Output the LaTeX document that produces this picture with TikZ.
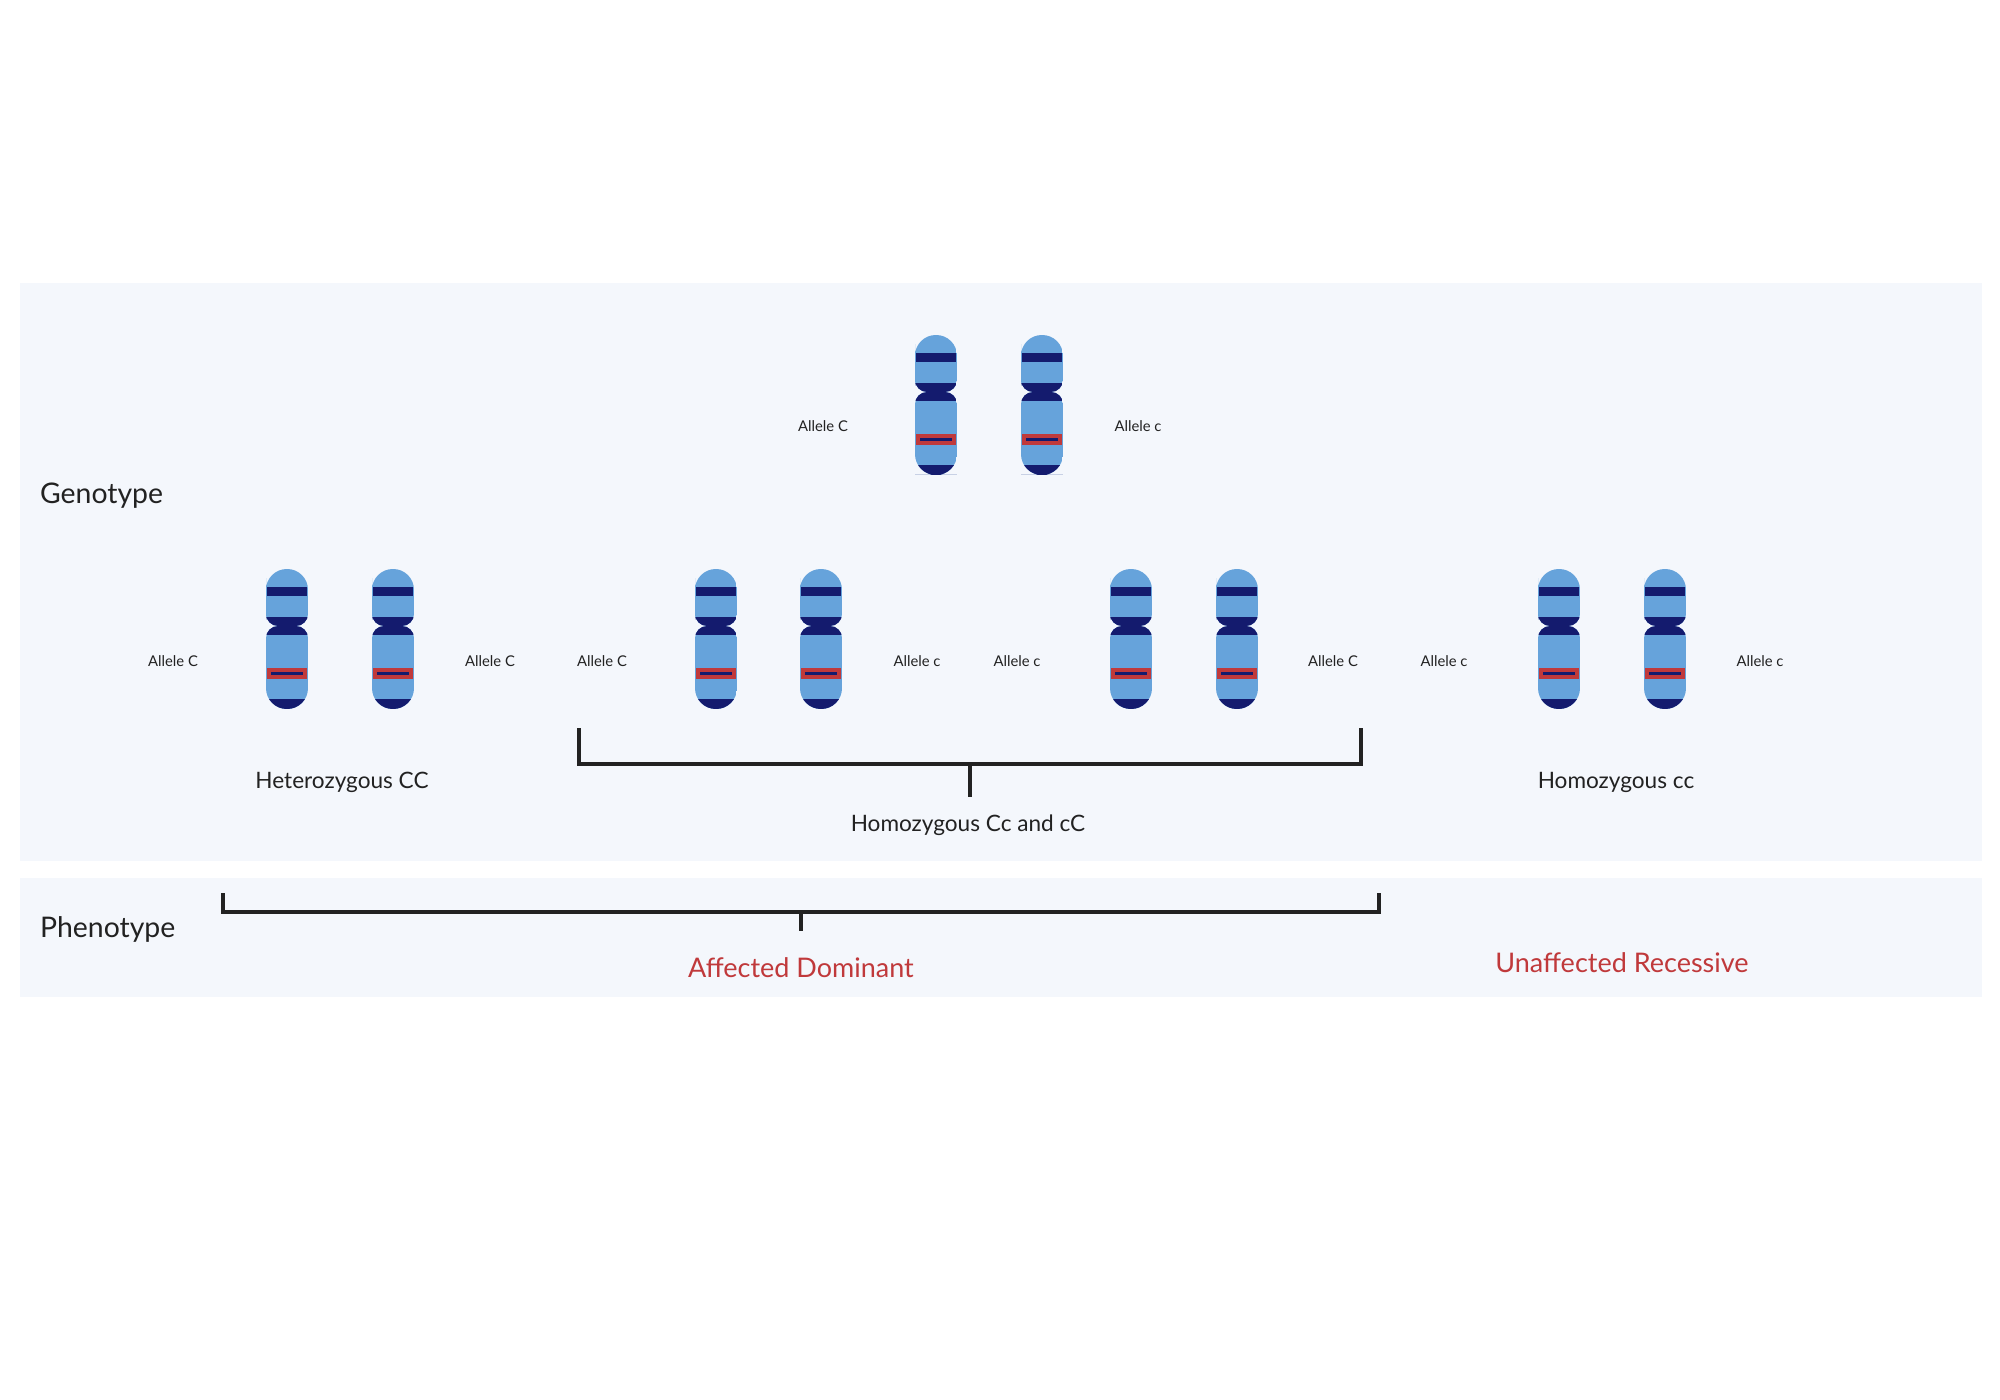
\documentclass[tikz,border=0pt]{standalone}
\usepackage{fontspec}
\setmainfont{Lato}
\definecolor{lb}{HTML}{66A3DB}
\definecolor{db}{HTML}{141B6E}
\definecolor{rd}{HTML}{C0393B}
\definecolor{pn}{HTML}{F4F7FC}
\definecolor{tx}{HTML}{222222}
\tikzset{
  allele/.style={font=\fontsize{7.4}{8}\selectfont, text=tx},
  big/.style={font=\fontsize{14.2}{15}\selectfont, text=tx, anchor=west},
  mid/.style={font=\fontsize{11.3}{12}\selectfont, text=tx},
  red/.style={font=\fontsize{13.5}{14}\selectfont, text=rd},
  brk/.style={draw=tx, line width=2pt},
}
\newcommand{\chromo}[2]{% center x, top y
  \begin{scope}
    \clip (#1,#2) [rounded corners=10.4pt] -- (#1-21,#2) -- (#1-21,#2+30) [rounded corners=6pt] -- (#1-21,#2+57) -- (#1+21,#2+57) -- (#1+21,#2+30) [rounded corners=10.4pt] -- (#1+21,#2) -- cycle;
    \fill[lb] (#1-21,#2) rectangle (#1+21,#2+57);
    \fill[db] (#1-21,#2+48) rectangle (#1+21,#2+57);
    \fill[db] (#1-20,#2+18) rectangle (#1+20,#2+27);
  \end{scope}
  \begin{scope}
    \clip (#1,#2+140) [rounded corners=10.4pt] -- (#1-21,#2+140) -- (#1-21,#2+100) [rounded corners=6pt] -- (#1-21,#2+57) -- (#1+21,#2+57) -- (#1+21,#2+100) [rounded corners=10.4pt] -- (#1+21,#2+140) -- cycle;
    \fill[lb] (#1-21,#2+57) rectangle (#1+21,#2+140);
    \fill[db] (#1-21,#2+57) rectangle (#1+21,#2+66);
    \fill[db] (#1-21,#2+130) rectangle (#1+21,#2+140);
  \end{scope}
  \fill[rd] (#1-20,#2+99) rectangle (#1+20,#2+110);
  \fill[db] (#1-16,#2+103) rectangle (#1+16,#2+106);
}
\begin{document}
\begin{tikzpicture}[x=0.5pt,y=-0.5pt]
\useasboundingbox (0,0) rectangle (2000,1400);
\fill[white] (0,0) rectangle (2000,1400);
\fill[pn] (20,283) rectangle (1982,861);
\fill[pn] (20,878) rectangle (1982,997);
\chromo{936}{335}\chromo{1042}{335}
\chromo{287}{569}\chromo{393}{569}
\chromo{716}{569}\chromo{821}{569}
\chromo{1131}{569}\chromo{1237}{569}
\chromo{1559}{569}\chromo{1665}{569}
\node[allele] (a1) at (823,426) {Allele C};
\node[allele] (a2) at (1138,426) {Allele c};
\node[allele] (b1) at (173,661) {Allele C};
\node[allele] (b2) at (490,661) {Allele C};
\node[allele] (b3) at (602,661) {Allele C};
\node[allele] (b4) at (917,661) {Allele c};
\node[allele] (b5) at (1017,661) {Allele c};
\node[allele] (b6) at (1333,661) {Allele C};
\node[allele] (b7) at (1444,661) {Allele c};
\node[allele] (b8) at (1760,661) {Allele c};
\node[big] (geno) at (33,496) {Genotype};
\node[big] (pheno) at (33,929) {Phenotype};
\node[mid] (het) at (342,782) {Heterozygous CC};
\node[mid] (hom) at (968,825) {Homozygous Cc and cC};
\node[mid] (homr) at (1616,782) {Homozygous cc};
\node[red] (aff) at (801,968) {Affected Dominant};
\node[red] (unaff) at (1622,963) {Unaffected Recessive};
\coordinate (g1) at (579,728); \coordinate (g2) at (1361,728);
\coordinate (gm) at (970,764); \coordinate (gs) at (970,797);
\draw[brk] (g1) |- (gm) -| (g2); \draw[brk] (gm) -- (gs);
\coordinate (p1) at (223,893); \coordinate (p2) at (1379,893);
\coordinate (pm) at (801,912); \coordinate (ps) at (801,931);
\draw[brk] (p1) |- (pm) -| (p2); \draw[brk] (pm) -- (ps);
\end{tikzpicture}
\end{document}
